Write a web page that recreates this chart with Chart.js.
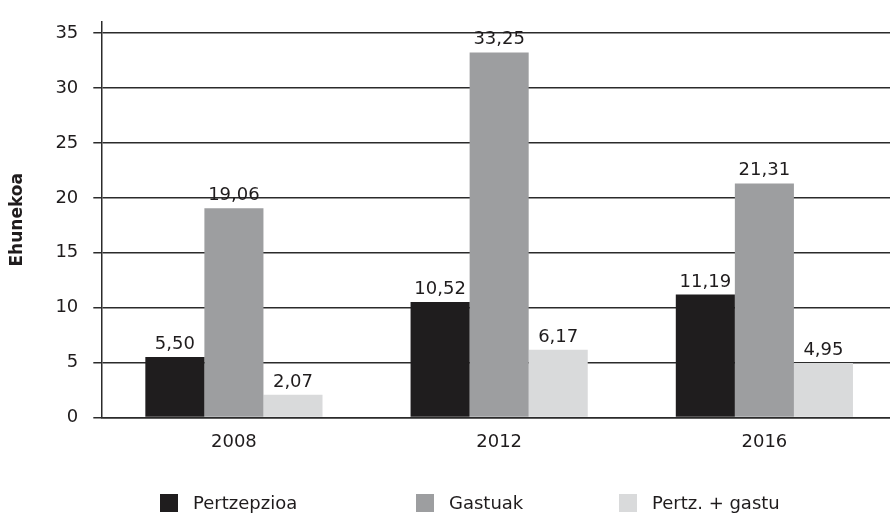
<!DOCTYPE html>
<html>
<head>
<meta charset="utf-8">
<script src="https://cdn.jsdelivr.net/npm/chart.js@4/dist/chart.umd.min.js"></script>
<style>
    html, body { margin: 0; padding: 0; background: #fff; overflow: hidden; }
    #wrap { position: relative; width: 890px; height: 513px; overflow: hidden; }
    #legend {
        position: absolute; left: 160px; top: 492px;
        display: flex; align-items: center;
        font-family: "DejaVu Sans", sans-serif; font-size: 18px; color: #1f1c1d;
    }
    .item { display: flex; align-items: center; }
    .box { width: 18px; height: 18px; margin-right: 15px; }
</style>
</head>
<body>
<div id="wrap">
    <canvas id="rarBarChart" width="897" height="513"></canvas>
    <div id="legend"></div>
</div>
<script>
const years = ['2008', '2012', '2016'];
const pertzepzioa = [5.50, 10.52, 11.19];
const gastuak = [19.06, 33.25, 21.31];
const pertzGastu = [2.07, 6.17, 4.95];
const yTicks = [0, 5, 10, 15, 20, 25, 30, 35];

const textColor = '#1f1c1d';
const lineColor = '#2b2b2b';

// value labels above each bar, with comma decimals
const barLabels = {
    id: 'barLabels',
    afterDatasetsDraw(chart) {
        const ctx = chart.ctx;
        ctx.save();
        ctx.font = '18px "DejaVu Sans"';
        ctx.fillStyle = textColor;
        ctx.textAlign = 'center';
        ctx.textBaseline = 'alphabetic';
        chart.data.datasets.forEach(function (ds, i) {
            chart.getDatasetMeta(i).data.forEach(function (bar, j) {
                const txt = ds.data[j].toFixed(2).replace('.', ',');
                ctx.fillText(txt, bar.x, bar.y - 8);
            });
        });
        ctx.restore();
    }
};

const barCtx = document.getElementById('rarBarChart');
const chart = new Chart(barCtx, {
    type: 'bar',
    data: {
        labels: years,
        datasets: [
            { label: 'Pertzepzioa', data: pertzepzioa, backgroundColor: '#1f1d1e' },
            { label: 'Gastuak', data: gastuak, backgroundColor: '#9d9ea0' },
            { label: 'Pertz. + gastu', data: pertzGastu, backgroundColor: '#d9dadb' }
        ]
    },
    options: {
        responsive: false,
        animation: false,
        layout: { padding: { top: 21, left: 4, right: 0, bottom: 54 } },
        datasets: { bar: { categoryPercentage: 0.668, barPercentage: 1.0 } },
        plugins: {
            legend: { display: false },
            tooltip: { enabled: false }
        },
        scales: {
            x: {
                grid: { display: false },
                border: { display: true, color: lineColor, width: 1.5 },
                ticks: { color: textColor, padding: 6, font: { family: 'DejaVu Sans', size: 18 } }
            },
            y: {
                min: 0,
                max: 36,
                afterBuildTicks: function (axis) {
                    axis.ticks = yTicks.map(function (v) { return { value: v }; });
                },
                grid: { color: lineColor, lineWidth: 1.5, tickLength: 8 },
                border: { display: true, color: lineColor, width: 1.5 },
                ticks: { color: textColor, padding: 15, font: { family: 'DejaVu Sans', size: 18, lineHeight: 0.8 } },
                title: {
                    display: true,
                    text: 'Ehunekoa',
                    color: textColor,
                    padding: { top: 3, bottom: 13 },
                    font: { family: 'DejaVu Sans', size: 17, weight: 'bold' }
                }
            }
        }
    },
    plugins: [barLabels]
});

// legend under the chart, built from the datasets
const legendEl = document.getElementById('legend');
const itemWidths = [256, 203, null];
chart.data.datasets.forEach(function (ds, i) {
    const item = document.createElement('div');
    item.className = 'item';
    if (itemWidths[i]) item.style.width = itemWidths[i] + 'px';
    const box = document.createElement('span');
    box.className = 'box';
    box.style.background = ds.backgroundColor;
    const label = document.createElement('span');
    label.textContent = ds.label;
    item.appendChild(box);
    item.appendChild(label);
    legendEl.appendChild(item);
});
</script>
</body>
</html>
